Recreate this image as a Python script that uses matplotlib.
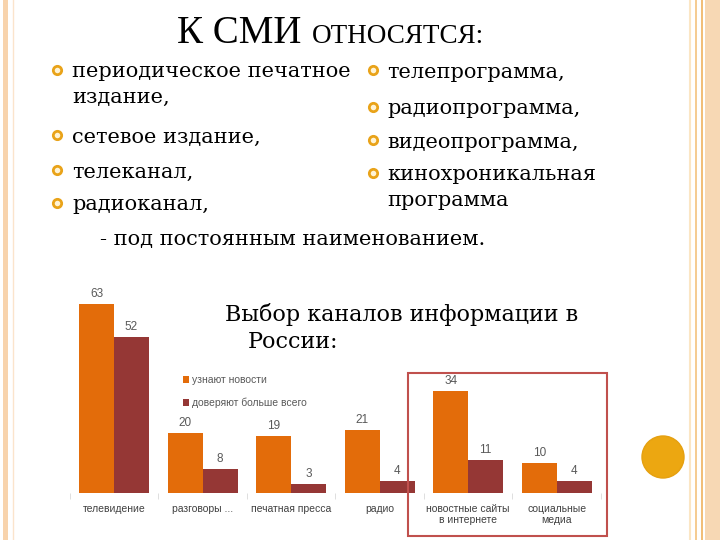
import numpy as np
import matplotlib
matplotlib.use("Agg")
import matplotlib.pyplot as plt
from matplotlib.patches import Rectangle, Circle

# ---- chart data ----
categories = ["телевидение", "разговоры ...", "печатная пресса", "радио",
              "новостные сайты\nв интернете", "социальные\nмедиа"]
learn_news = [63, 20, 19, 21, 34, 10]
trust_most = [52, 8, 3, 4, 11, 4]
series_names = ["узнают новости", "доверяют больше всего"]

# ---- slide text ----
left_items = ["периодическое печатное\nиздание,", "сетевое издание,", "телеканал,", "радиоканал,"]
right_items = ["телепрограмма,", "радиопрограмма,", "видеопрограмма,", "кинохроникальная\nпрограмма"]

orange = "#e36c0a"
darkred = "#953735"
gray = "#595959"
serif = "DejaVu Serif"

W, H = 720, 540
fig = plt.figure(figsize=(7.2, 5.4), dpi=100)

# bar chart axes (pixel box: x 69.7..601, bottom 493)
ax = fig.add_axes([69.7 / W, 1 - 493 / H, (601 - 69.7) / W, 216 / H])
x = np.arange(len(categories))
bw = 0.395
b1 = ax.bar(x - bw / 2, learn_news, bw, color=orange, label=series_names[0])
b2 = ax.bar(x + bw / 2, trust_most, bw, color=darkred, label=series_names[1])
for bars in (b1, b2):
    for r in bars:
        ax.annotate(str(int(r.get_height())), (r.get_x() + r.get_width() / 2, r.get_height()),
                    xytext=(0, 3), textcoords="offset points", ha="center", va="bottom",
                    fontsize=8.5, color=gray, family="Liberation Sans")
ax.set_xlim(-0.5, len(categories) - 0.5)
ax.set_ylim(0, 72)
ax.set_xticks(x)
ax.set_xticklabels(categories, fontsize=7.5, color="#404040", family="Liberation Sans",
                   linespacing=1.1)
ax.tick_params(axis="x", length=0, pad=8)
ax.set_xticks(np.arange(-0.5, len(categories)), minor=True)
ax.tick_params(axis="x", which="minor", length=4, color="#d9d9d9", direction="out")
ax.set_yticks([])
for s in ax.spines.values():
    s.set_visible(False)
ax.set_facecolor("none")
leg = ax.legend(loc="upper left", bbox_to_anchor=((183 - 69.7) / (601 - 69.7), 1 - (375 - 277) / 216),
                frameon=False, fontsize=7.5, handlelength=0.6, handleheight=0.6,
                handletextpad=0.3, labelspacing=1.2, borderaxespad=0, borderpad=0)
for t in leg.get_texts():
    t.set_color(gray)
    t.set_family("Liberation Sans")

# overlay in pixel coordinates for the slide decoration and text
ov = fig.add_axes([0, 0, 1, 1], zorder=5)
ov.set_xlim(0, W)
ov.set_ylim(H, 0)
ov.axis("off")
ov.set_facecolor("none")

# borders
ov.add_patch(Rectangle((3, 0), 5, H, color="#f8d3ac", lw=0))
ov.axvline(13, color="#fbe4cc", lw=1)
ov.axvline(690, color="#fbe6c4", lw=1.5)
ov.axvline(696, color="#f3c27e", lw=1.2)
ov.axvline(702, color="#efb25e", lw=1.2)
ov.add_patch(Rectangle((705, 0), 15, H, color="#f7d8b4", lw=0))
ov.add_patch(Circle((663, 457), 21, facecolor="#eca711", edgecolor="#e5a010", lw=1))

# title
ov.text(177, 43, "К СМИ", fontsize=28, family="Liberation Serif", va="baseline", ha="left")
ov.text(312, 43, "ОТНОСЯТСЯ:", fontsize=19.5, family="Liberation Serif", va="baseline", ha="left")

fs = 15
left_y = [70, 135, 170, 203]
right_y = [70, 107, 140, 173]
for items, ys, bx, tx in ((left_items, left_y, 57, 72), (right_items, right_y, 373, 387)):
    for it, yy in zip(items, ys):
        ov.plot(bx, yy, "o", ms=6, mfc="#fff4d6", mec="#e9a319", mew=2)
        if "\n" in it:
            ov.text(tx, yy - 8, it, fontsize=fs, family=serif, va="top", ha="left", linespacing=1.45)
        else:
            ov.text(tx, yy, it, fontsize=fs, family=serif, va="center_baseline", ha="left")
ov.text(100, 237, "- под постоянным наименованием.", fontsize=fs, family=serif,
        va="center_baseline", ha="left")

ov.text(225, 312, "Выбор каналов информации в", fontsize=16, family=serif, va="center_baseline")
ov.text(248, 340, "России:", fontsize=16, family=serif, va="center_baseline")

# red frame around the internet columns
ov.add_patch(Rectangle((408, 373), 199, 163, fill=False, edgecolor="#c0504d", lw=1.5))

fig.savefig("out.png", dpi=100, facecolor="white")
